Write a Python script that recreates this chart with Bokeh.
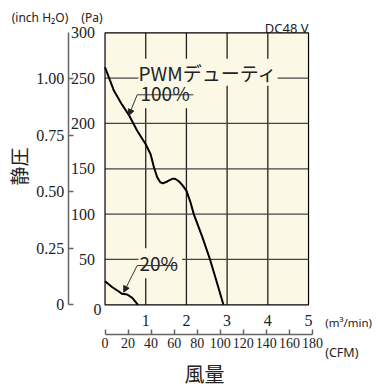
import math
from bokeh.plotting import figure
from bokeh.models import Range1d, LinearAxis, FixedTicker, Label, Arrow, NormalHead
from bokeh.embed import file_html
from bokeh.resources import INLINE

# ---- data ----
flow_100 = [0, 0.22, 0.40, 0.59, 0.79, 1.00, 1.12, 1.20, 1.28, 1.36, 1.42, 1.53, 1.65, 1.72,
            1.82, 1.90, 2.00, 2.10, 2.18, 2.39, 2.58, 2.76, 2.91]
pres_100 = [262, 236, 222, 209, 192, 177, 166, 152, 141, 135, 134, 136, 139, 139,
            136, 132, 126, 113, 100, 75, 50, 23, 0]
flow_20 = [0, 0.18, 0.34, 0.42, 0.545, 0.67, 0.79, 0.81]
pres_20 = [26, 19.4, 14.7, 12.1, 11.4, 7.7, 1.1, 0]

x_ticks = [1, 2, 3, 4, 5]
pa_ticks = [50, 100, 150, 200, 250, 300]
inch_ticks = [0, 0.25, 0.5, 0.75, 1.0]
inch_labels = ["0", "0.25", "0.50", "0.75", "1.00"]
cfm_ticks = [0, 20, 40, 60, 80, 100, 120, 140, 160, 180]
grid_x = [1, 2, 3, 4]
grid_y = [50, 100, 150, 200, 250]

X_MAX, Y_MAX = 5, 300
PA_PER_INCH = 249.089
CFM_PER_M3MIN = 35.3147

# visible view window (data units) spanning the whole canvas
X_LO, X_HI = -2.568, 6.744
Y_LO, Y_HI = -94.5, 335.6
INCH_AXIS_X = -0.904      # position of the inch H2O scale line
CFM_AXIS_Y = -33.1        # position of the CFM scale line

# annotation anchors (data units)
lead_100 = dict(x0=0.79, y0=231.6, x1=0.585, y1=208.8, xr=2.17)
lead_20 = dict(x0=0.79, y0=43.3, x1=0.46, y1=13.9, xr=1.77)

NARROW = "Liberation Sans Narrow"
JP = "Noto Sans CJK JP"
SANS = "Noto Sans"
CREAM = "#fbf8e6"
TXT = "#222222"
AX = "#666666"

p = figure(width=379, height=390, x_range=Range1d(X_LO, X_HI), y_range=Range1d(Y_LO, Y_HI),
           x_axis_type=None, y_axis_type=None,
           output_backend="svg", toolbar_location=None, min_border=0)
p.title.visible = False
p.outline_line_color = None
p.background_fill_color = "white"
p.border_fill_color = "white"

p.extra_y_ranges = {"inch": Range1d(Y_LO / PA_PER_INCH, Y_HI / PA_PER_INCH)}
p.extra_x_ranges = {"cfm": Range1d(X_LO * CFM_PER_M3MIN, X_HI * CFM_PER_M3MIN)}

# plot area
p.quad(left=[0], right=[X_MAX], bottom=[0], top=[Y_MAX], fill_color=CREAM, line_color=None)
p.segment(x0=grid_x, y0=[0] * len(grid_x), x1=grid_x, y1=[Y_MAX] * len(grid_x),
          line_color="#222222", line_width=1.3)
p.segment(x0=[0] * len(grid_y), y0=grid_y, x1=[X_MAX] * len(grid_y), y1=grid_y,
          line_color="#444444", line_width=1.2)
p.line(flow_100, pres_100, line_color="black", line_width=2)
p.line(flow_20, pres_20, line_color="black", line_width=2)
p.quad(left=[0], right=[X_MAX], bottom=[0], top=[Y_MAX], fill_color=None,
       line_color="black", line_width=1.2)

def style_labels(ax, size="16px"):
    ax.major_label_text_font = NARROW
    ax.major_label_text_font_size = size
    ax.major_label_text_color = TXT
    ax.minor_tick_line_color = None

# Pa axis
pa = LinearAxis(ticker=FixedTicker(ticks=pa_ticks), fixed_location=0)
pa.axis_line_color = None
pa.major_tick_line_color = None
pa.major_label_standoff = 4
style_labels(pa)
p.add_layout(pa, "left")

# inch H2O axis
inch = LinearAxis(y_range_name="inch", ticker=FixedTicker(ticks=inch_ticks),
                  major_label_overrides={t: l for t, l in zip(inch_ticks, inch_labels)},
                  bounds=(0, Y_MAX / PA_PER_INCH), fixed_location=INCH_AXIS_X)
inch.axis_line_color = AX
inch.axis_line_width = 1.5
inch.major_tick_line_color = AX
inch.major_tick_line_width = 1.5
inch.major_tick_in = 5
inch.major_tick_out = 0
inch.major_label_standoff = 4
style_labels(inch)
p.add_layout(inch, "left")

# m3/min axis
xa = LinearAxis(ticker=FixedTicker(ticks=x_ticks), fixed_location=0)
xa.axis_line_color = None
xa.major_tick_line_color = None
xa.major_label_standoff = 4
style_labels(xa)
p.add_layout(xa, "below")

# CFM axis
cfm = LinearAxis(x_range_name="cfm", ticker=FixedTicker(ticks=cfm_ticks), bounds=(0, 180),
                 fixed_location=CFM_AXIS_Y)
cfm.axis_line_color = AX
cfm.axis_line_width = 1.5
cfm.major_tick_line_color = AX
cfm.major_tick_line_width = 1.5
cfm.major_tick_in = 5
cfm.major_tick_out = 0
cfm.major_label_standoff = 3
style_labels(cfm, "14px")
p.add_layout(cfm, "below")

def lab(text, x, y, font=SANS, size="12px", align="left", baseline="alphabetic",
        xo=0, yo=0, bg=None, pad=0, angle=0):
    l = Label(x=x, y=y, text=text, x_offset=xo, y_offset=yo, text_font=font,
              text_font_size=size, text_align=align, text_baseline=baseline, text_color=TXT,
              background_fill_color=bg, padding=pad, angle=angle)
    p.add_layout(l)

lab("0", 0, 0, font=NARROW, size="16px", align="center", baseline="middle", xo=-7.5, yo=-4.7)
lab("DC48 V", X_MAX, Y_MAX, size="13px", align="right", yo=5.2)
lab("(inch H₂O)", INCH_AXIS_X, Y_MAX, size="12px", align="right", yo=15.2)
lab("(Pa)", 0, Y_MAX, size="12px", align="right", xo=-2.5, yo=15.2)
lab("(m³/min)", X_MAX, 0, size="11.5px", xo=16.7, yo=-18)
lab("(CFM)", X_MAX, 0, size="12.5px", xo=16.7, yo=-47.4)
lab("静圧", -2.125, 152.5, font=JP, size="19px", align="center", baseline="middle",
    angle=math.pi / 2)
lab("風量", 2.445, -75.8, font=JP, size="20px", align="center", baseline="middle")

lab("100%", 0.823, 233.4, font=JP, size="19px", bg=CREAM, pad=(2, 5, 1, 2))
lab("PWMデューティ", 0.823, 256.5, font=JP, size="19px", bg=CREAM, pad=0)
lab("20%", 0.823, 45.9, font=JP, size="19px", bg=CREAM, pad=(1, 4, 1, 2))

for ld in (lead_100, lead_20):
    p.add_layout(Arrow(x_start=ld["x0"], y_start=ld["y0"], x_end=ld["xr"], y_end=ld["y0"],
                       end=None, line_color="#333333", line_width=1))
    p.add_layout(Arrow(x_start=ld["x0"], y_start=ld["y0"], x_end=ld["x1"], y_end=ld["y1"],
                       end=NormalHead(size=6, fill_color="#222222", line_color="#222222"),
                       line_color="#333333", line_width=1))

open("out.html", "w").write(file_html(p, INLINE))
